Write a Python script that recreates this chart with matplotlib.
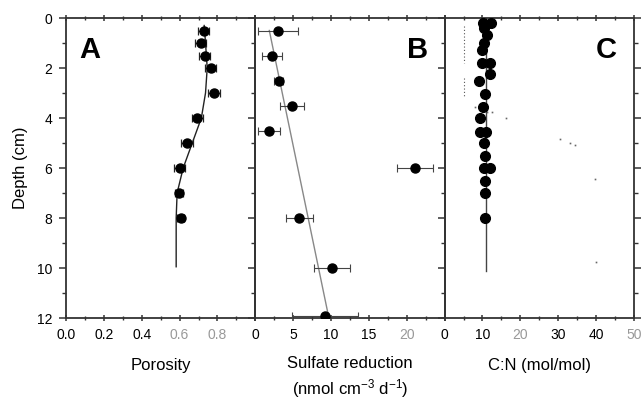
import matplotlib
matplotlib.use("Agg")
import matplotlib.pyplot as plt
from matplotlib.ticker import MultipleLocator
import numpy as np

plt.rcParams['font.family'] = ['Liberation Sans', 'DejaVu Sans']
plt.rcParams['mathtext.fontset'] = 'custom'
plt.rcParams['mathtext.rm'] = 'Liberation Sans'
plt.rcParams['mathtext.it'] = 'Liberation Sans'

# --- panel A: porosity
por_depth = [0.5, 1.0, 1.5, 2.0, 3.0, 4.0, 5.0, 6.0, 7.0, 8.0]
por_val = [0.727, 0.711, 0.732, 0.764, 0.781, 0.693, 0.640, 0.601, 0.596, 0.605]
por_err = [0.03, 0.03, 0.03, 0.03, 0.03, 0.03, 0.03, 0.03, 0.02, 0.02]
por_fit_depth = [0.3, 1.0, 2.0, 3.0, 4.0, 5.0, 6.0, 7.0, 8.0, 9.0, 9.95]
por_fit_val = [0.730, 0.737, 0.746, 0.737, 0.715, 0.667, 0.619, 0.587, 0.582, 0.582, 0.582]

# --- panel B: sulfate reduction
sr_depth = [0.5, 1.5, 2.5, 3.5, 4.5, 6.0, 8.0, 10.0, 11.9]
sr_val = [3.0, 2.2, 3.1, 4.8, 1.8, 21.1, 5.8, 10.1, 9.2]
sr_err = [2.7, 1.3, 0.6, 1.6, 1.5, 2.4, 1.8, 2.4, 4.4]
sr_fit_depth = [0.5, 11.9]
sr_fit_val = [1.85, 9.65]

# --- panel C: C:N
cn_depth = [0.21, 0.21, 0.41, 0.68, 1.0, 1.28, 1.79, 1.79, 2.24, 2.5, 3.04, 3.55,
            4.0, 4.55, 4.55, 5.0, 5.52, 6.0, 6.0, 6.52, 7.0, 8.0]
cn_val = [10.1, 12.2, 10.5, 11.3, 10.3, 9.75, 9.75, 11.9, 12.0, 9.1, 10.8, 10.1,
          9.4, 9.3, 11.0, 10.4, 10.7, 10.3, 12.0, 10.7, 10.7, 10.7]
cn_line_depth = [0.0, 10.1]
cn_line_val = [11.0, 11.0]
speck_x = [8.0, 11.3, 12.4, 16.3, 30.6, 33.2, 34.5, 39.7, 39.9]
speck_y = [3.55, 3.75, 3.76, 4.0, 4.85, 5.0, 5.08, 6.44, 9.75]

depth_ticks = [0, 2, 4, 6, 8, 10, 12]

W, H = 643, 401
fig = plt.figure(figsize=(W / 100, H / 100), dpi=100)

left = 66 / W
pw = 189.3 / W
bottom = 1 - 318 / H
ph = 300 / H

axes = [fig.add_axes([left + i * pw, bottom, pw, ph]) for i in range(3)]

def style(ax, xmax, major, minor, labels, grey_labels):
    ax.set_xlim(0, xmax)
    ax.set_ylim(12, 0)
    ax.set_yticks(depth_ticks)
    ax.yaxis.set_minor_locator(MultipleLocator(1))
    ticks = list(np.arange(0, xmax + 1e-9, major))
    ax.set_xticks(ticks)
    full = labels + [''] * (len(ticks) - len(labels))
    ax.set_xticklabels(full)
    ax.xaxis.set_minor_locator(MultipleLocator(minor))
    ax.set_xlim(0, xmax)
    for s in ax.spines.values():
        s.set_linewidth(1.3)
        s.set_color('#333333')
    ax.tick_params(axis='both', which='major', direction='out', length=5, width=1.1,
                   labelsize=10, color='#333333', pad=5)
    ax.tick_params(axis='both', which='minor', direction='out', length=3, width=1.0,
                   color='#333333')
    ax.tick_params(axis='x', which='both', top=True, direction='inout')
    for lab, txt in zip(ax.get_xticklabels(), full):
        if txt in grey_labels:
            lab.set_color('#999999')
    ax.set_facecolor('none')

style(axes[0], 1.0, 0.2, 0.1, ['0.0', '0.2', '0.4', '0.6', '0.8'], ['0.6', '0.8'])
style(axes[1], 25, 5, 2.5, ['0', '5', '10', '15', '20'], ['20'])
style(axes[2], 50, 10, 5, ['0', '10', '20', '30', '40', '50'], ['20', '50'])
axes[2].tick_params(axis='y', which='both', right=True, direction='in')
axes[2].tick_params(axis='y', which='both', left=True, direction='out')
for ax in axes[1:]:
    ax.set_yticklabels([])

# panel A
ax = axes[0]
ax.plot(por_fit_val, por_fit_depth, color='#222222', lw=1.0, zorder=2)
ax.errorbar(por_val, por_depth, xerr=por_err, fmt='o', color='black', ms=6.5,
            ecolor='#222222', elinewidth=0.9, capsize=3, capthick=0.9, zorder=3)
ax.set_ylabel('Depth (cm)', fontsize=12, labelpad=6)
ax.set_xlabel('Porosity', fontsize=12, labelpad=11)
ax.text(0.07, 0.94, 'A', transform=ax.transAxes, fontsize=21, fontweight='bold',
        va='top', ha='left')

# panel B
ax = axes[1]
ax.plot(sr_fit_val, sr_fit_depth, color='#888888', lw=1.0, zorder=2)
ax.errorbar(sr_val, sr_depth, xerr=sr_err, fmt='o', color='black', ms=6.5,
            ecolor='#444444', elinewidth=0.8, capsize=3, capthick=0.8, zorder=3)
ax.set_xlabel('Sulfate reduction\n(nmol cm$^{-3}$ d$^{-1}$)', fontsize=12,
              labelpad=10, linespacing=1.35)
ax.text(0.80, 0.94, 'B', transform=ax.transAxes, fontsize=21, fontweight='bold',
        va='top', ha='left')

# panel C
ax = axes[2]
ax.plot(cn_line_val, cn_line_depth, color='#444444', lw=1.0, zorder=2)
ax.plot(cn_val, cn_depth, 'o', color='black', ms=7, zorder=3)
ax.plot([5.1, 5.1], [0.3, 1.8], ls=(0, (1, 2)), color='#555555', lw=0.8)
ax.plot([5.2, 5.2], [2.4, 3.1], ls=(0, (1, 2)), color='#555555', lw=0.8)
ax.plot(speck_x, speck_y, 's', color='#666666', ms=1.2, mew=0)
ax.set_xlabel('C:N (mol/mol)', fontsize=12, labelpad=11)
ax.text(0.80, 0.94, 'C', transform=ax.transAxes, fontsize=21, fontweight='bold',
        va='top', ha='left')

fig.savefig('out.png', dpi=100)
